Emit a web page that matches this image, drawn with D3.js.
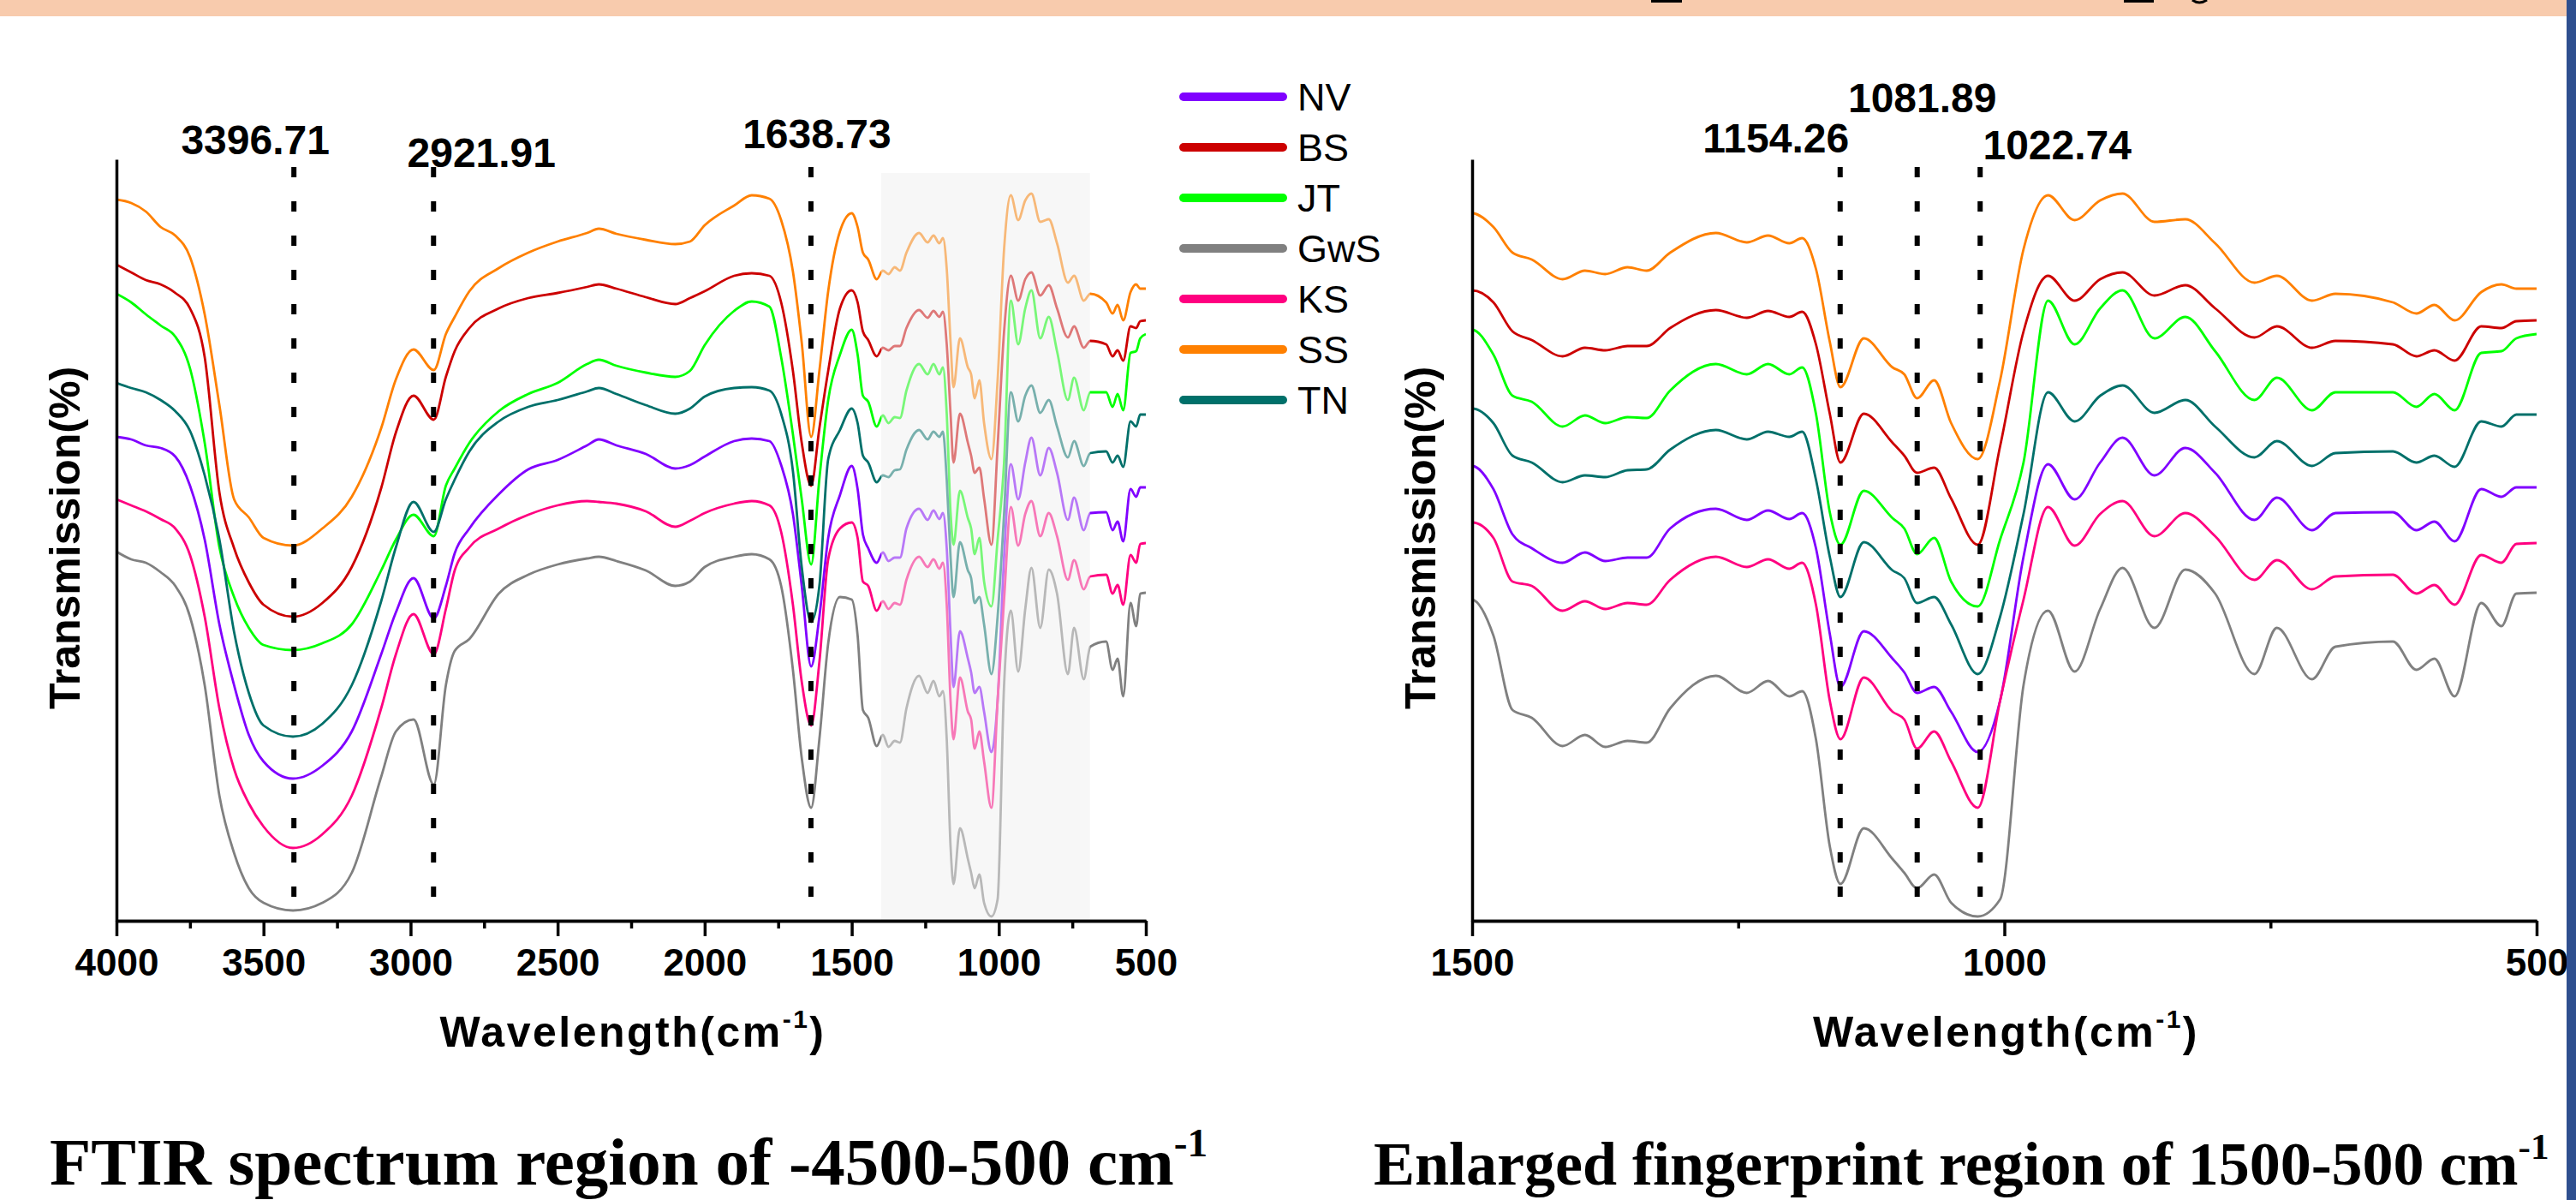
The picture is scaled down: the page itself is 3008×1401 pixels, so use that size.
<!DOCTYPE html>
<html><head><meta charset="utf-8">
<script src="https://cdn.jsdelivr.net/npm/d3@7"></script>
<style>
body{margin:0;background:#fff;}
svg{display:block;}
</style>
</head><body>
<svg id="chart" width="3008" height="1401"></svg>
<script>
// ---------------- DATA ----------------
const wavenumbers = [4000,3950,3900,3850,3800,3750,3700,3650,3600,3550,3500,3400,3300,3200,3100,3050,2990,2921,2880,2850,2800,2700,2600,2500,2400,2360,2300,2200,2100,2050,2000,1900,1840,1780,1740,1700,1670,1638,1610,1580,1540,
1500,1480,1462,1444,1415,1394,1375,1354,1336,1314,1271,1242,1222,1202,1190,1177,1164,1154,1132,1105,1094,1082,1066,1050,1025,1004,982,959,934,910,889,859,830,802,765,744,711,689,635,613,596,577,552,533,519,500];

const NV = [56.1,55.8,55.1,54.8,53.8,50.4,44.1,34.2,27.1,21.3,18.2,16.2,17.7,21.7,30.7,35.6,39.6,34.9,38.7,42.5,45.4,49.4,52.3,53.4,55.1,55.8,55.1,54.1,52.4,52.8,53.8,55.6,55.9,55.6,52.8,47.1,38.7,29.3,35.1,44.3,49.3,
52.7,50.0,44.7,43.1,41.4,42.6,41.6,42.0,42.0,45.4,47.7,46.4,47.5,46.5,47.2,43.1,33.1,26.9,33.4,30.2,28.6,26.2,26.9,24.0,19.3,25.3,42.1,52.9,48.8,53.1,56.0,51.6,54.8,51.9,46.4,49.0,45.2,47.2,47.3,45.2,46.2,43.9,50.0,49.1,50.2,50.2];

const BS = [76.2,75.3,74.4,73.9,72.9,71.1,65.4,49.6,43.1,39.1,36.5,35.1,36.7,40.9,50.1,56.6,60.9,58.1,63.1,66.1,68.8,71.1,72.3,72.9,73.6,73.9,73.4,72.4,71.6,72.3,73.1,74.9,75.2,74.9,71.8,63.8,55.4,50.4,57.1,63.8,71.1,
73.2,71.8,68.4,67.4,65.5,66.5,66.2,66.7,66.7,68.8,70.9,70.0,70.8,70.1,70.7,66.9,58.8,53.1,58.8,55.4,53.9,51.9,52.5,48.9,43.5,55.0,68.4,74.9,72.0,74.5,75.3,72.6,73.8,71.1,67.7,69.0,66.5,67.3,66.9,65.5,66.2,65.0,69.0,68.8,69.6,69.7];

const JT = [72.8,71.8,70.4,69.1,67.8,64.1,55.4,43.2,37.4,33.8,31.8,31.2,32.0,34.2,40.5,44.1,47.0,44.5,50.4,52.4,55.4,59.1,61.1,62.4,64.6,65.1,64.4,63.6,63.1,63.8,66.8,70.8,71.9,71.3,65.4,56.4,48.8,41.2,51.2,60.4,65.7,
68.6,65.7,60.9,60.2,57.3,58.6,57.7,58.4,58.3,61.5,64.6,63.4,64.6,63.4,64.2,58.8,47.3,43.5,49.8,46.6,45.4,42.4,44.3,39.2,36.3,44.1,53.1,72.0,66.9,71.1,73.2,67.6,70.1,66.1,60.4,63.0,59.2,61.3,61.3,59.6,61.1,59.2,65.9,66.1,67.6,68.1];

const GwS = [42.7,41.8,41.4,40.3,38.7,35.1,27.1,14.2,7.5,3.4,1.7,0.8,1.7,5.2,16.4,21.7,23.1,15.5,27.1,31.1,32.5,37.8,40.0,41.2,41.9,42.1,41.6,40.5,38.7,39.2,40.9,42.1,42.4,41.8,38.7,28.9,18.6,12.8,20.8,32.0,37.4,
37.1,32.9,24.2,23.3,20.0,21.3,19.9,20.6,20.4,24.4,28.2,26.2,27.6,25.8,26.4,20.8,8.3,3.9,10.4,6.8,5.2,3.4,5.0,1.7,0.1,2.1,27.1,35.8,28.7,36.0,40.8,33.8,40.6,37.8,28.4,33.8,27.8,31.6,32.2,28.9,30.2,25.8,36.7,34.0,37.8,37.9];

const KS = [48.8,48.1,47.4,46.5,45.4,42.3,35.1,24.4,17.3,13.3,10.6,8.1,9.7,14.2,24.4,30.7,35.4,30.7,36.0,40.5,43.2,45.4,47.0,48.1,48.6,48.5,48.3,47.4,45.6,46.3,47.2,48.3,48.6,48.1,45.0,36.5,27.5,22.4,29.8,41.8,45.4,
46.1,44.3,39.2,38.7,35.8,36.9,36.0,36.7,36.5,39.4,42.1,40.9,41.8,40.7,41.4,36.5,25.3,20.8,28.0,24.0,23.1,19.7,21.7,18.2,12.8,25.3,37.1,47.9,43.4,47.1,48.6,44.5,47.2,44.5,39.4,41.7,38.3,39.8,40.0,37.8,38.8,36.5,42.3,41.4,43.6,43.7];

const SS = [83.8,83.4,82.4,80.6,79.6,77.1,70.4,59.8,48.8,46.7,44.3,43.4,45.4,49.1,57.1,62.8,66.3,63.9,68.1,70.1,73.1,75.8,77.6,78.9,79.9,80.4,79.8,79.1,78.6,78.9,80.8,83.1,84.3,83.9,81.4,75.4,67.1,56.1,63.8,73.1,80.1,
82.2,80.6,77.6,76.8,74.5,75.5,75.1,75.9,75.5,77.6,79.9,78.8,79.6,78.7,79.3,75.7,67.2,61.9,67.6,64.2,63.4,60.6,62.7,57.7,53.5,62.7,78.0,84.3,81.4,83.7,84.5,81.2,81.5,78.7,74.1,74.9,72.0,72.8,71.8,70.5,71.5,69.7,73.0,73.9,73.4,73.4];

const TN = [62.4,61.8,61.3,60.4,59.1,56.8,51.6,44.1,33.3,26.2,22.4,21.1,22.6,27.1,36.9,43.2,48.5,45.0,48.8,51.1,54.4,57.9,59.6,60.4,61.4,61.8,61.1,59.8,58.8,59.4,60.8,61.8,61.9,61.5,58.8,52.1,40.9,34.5,38.7,53.5,56.9,
59.4,57.7,53.9,53.1,50.8,51.6,51.4,52.2,52.3,54.6,56.9,55.8,56.7,56.1,56.7,51.1,42.1,37.4,43.8,40.5,39.6,36.7,37.4,34.2,28.4,35.1,47.1,61.3,57.9,60.9,62.1,58.9,60.4,57.3,53.7,55.6,52.7,54.2,54.4,53.1,53.9,52.6,57.9,57.3,58.7,58.7];

const seriesNames = ["NV","BS","JT","GwS","KS","SS","TN"];
const seriesColors = ["#8000ff","#cc0000","#00ff00","#808080","#ff0080","#ff8000","#00706a"];
const leftMajorTicks = [4000,3500,3000,2500,2000,1500,1000,500];
const leftMinorTicks = [3750,3250,2750,2250,1750,1250,750];
const rightMajorTicks = [1500,1000,500];
const rightMinorTicks = [1250,750];
const leftPeaks = [3396.71, 2921.91, 1638.73];
const rightPeaks = [1154.26, 1081.89, 1022.74];
const shadedBand = [1400, 690];
const leftCaption = "FTIR spectrum region of -4500-500 cm";
const rightCaption = "Enlarged fingerprint region of 1500-500 cm";

// ---------------- LAYOUT ----------------
const SANS = "'Liberation Sans', Arial, sans-serif";
const SERIF = "'Liberation Serif', 'Times New Roman', serif";
const seriesValues = [NV, BS, JT, GwS, KS, SS, TN];
const svg = d3.select("#chart");
const yTop = 186, yBot = 1075;
const y = d3.scaleLinear().domain([-0.4, 88.5]).range([yBot, yTop]);
const xL = d3.scaleLinear().domain([4000, 500]).range([136, 1338]);
const xR = d3.scaleLinear().domain([1500, 500]).range([1719, 2962]);

svg.append("rect").attr("x",0).attr("y",0).attr("width",3008).attr("height",1401).attr("fill","#fff");
// top band with cut-off marks of text above the crop
svg.append("rect").attr("x",0).attr("y",0).attr("width",2997).attr("height",19).attr("fill","#f8cbad");
svg.append("rect").attr("x",1928).attr("y",0).attr("width",36).attr("height",3).attr("fill","#000");
svg.append("rect").attr("x",2480).attr("y",0).attr("width",35).attr("height",3).attr("fill","#000");
svg.append("path").attr("d","M2560,0 Q2568,6 2577,0").attr("fill","none").attr("stroke","#000").attr("stroke-width",3);

const defs = svg.append("defs");
function clip(id, x0, x1){
  defs.append("clipPath").attr("id", id).append("rect")
    .attr("x", x0).attr("y", yTop - 20).attr("width", x1 - x0).attr("height", yBot - yTop + 20);
}
clip("clipL", 136, 1338);
clip("clipR", 1719, 2962);

function panel(x, clipId, major, minor, peaks, labelDx, labelY, shaded){
  const g = svg.append("g");
  const lineGen = d3.line()
    .x((d,i) => x(wavenumbers[i]))
    .y(d => y(d))
    .curve(d3.curveMonotoneX);
  const lines = g.append("g").attr("clip-path", `url(#${clipId})`);
  seriesValues.forEach((vals, k) => {
    lines.append("path").attr("d", lineGen(vals))
      .attr("fill","none").attr("stroke", seriesColors[k])
      .attr("stroke-width", 2.8).attr("stroke-linejoin","round");
  });
  if (shaded) {
    g.append("rect").attr("x", x(shaded[0])).attr("y", 202)
      .attr("width", x(shaded[1]) - x(shaded[0])).attr("height", yBot - 202)
      .attr("fill", "#efefef").attr("opacity", 0.5);
  }
  peaks.forEach((p, i) => {
    g.append("line").attr("x1", x(p)).attr("x2", x(p)).attr("y1", 195).attr("y2", yBot)
      .attr("stroke","#000").attr("stroke-width",6).attr("stroke-dasharray","12,28");
    g.append("text").attr("x", x(p) + labelDx[i]).attr("y", labelY[i])
      .attr("text-anchor","middle").style("font-family", SANS).attr("font-size",48).attr("font-weight","bold")
      .text(d3.format(".2f")(p));
  });
  const axMinor = d3.axisBottom(x).tickValues(minor).tickSize(9).tickSizeOuter(0).tickFormat("");
  const axMajor = d3.axisBottom(x).tickValues(major).tickSize(18).tickSizeOuter(0).tickPadding(15).tickFormat(d3.format("d"));
  const gm = g.append("g").attr("transform", `translate(0,${yBot})`).call(axMinor);
  const gM = g.append("g").attr("transform", `translate(0,${yBot})`).call(axMajor);
  [gm, gM].forEach(a => {
    a.selectAll("path.domain").attr("stroke","#000").attr("stroke-width",3.5);
    a.selectAll(".tick line").attr("stroke","#000").attr("stroke-width",3.5);
  });
  gM.selectAll(".tick text").style("font-family", SANS).attr("font-size",44).attr("font-weight","bold").attr("fill","#000");
  const yAx = d3.axisLeft(y).tickValues([]).tickSizeOuter(0);
  const gy = g.append("g").attr("transform", `translate(${x.range()[0]},0)`).call(yAx);
  gy.select("path.domain").attr("stroke","#000").attr("stroke-width",3.5);
  const xc = (x.range()[0] + x.range()[1]) / 2;
  const t = g.append("text").attr("x", xc + 2).attr("y", 1222).attr("text-anchor","middle")
    .style("font-family", SANS).attr("font-size",50).attr("font-weight","bold").attr("letter-spacing","2.5px");
  t.append("tspan").text("Wavelength(cm");
  t.append("tspan").attr("font-size",30).attr("dy",-22).text("-1");
  t.append("tspan").attr("dy",22).text(")");
  g.append("text").attr("transform", `translate(${x.range()[0] - 43},628) rotate(-90)`)
    .attr("text-anchor","middle").style("font-family", SANS).attr("font-size",50).attr("font-weight","bold")
    .text("Transmission(%)");
  return g;
}

panel(xL, "clipL", leftMajorTicks, leftMinorTicks, leftPeaks, [-45, 56, 7], [180, 195, 173], shadedBand);
panel(xR, "clipR", rightMajorTicks, rightMinorTicks, rightPeaks, [-75, 6, 90], [178, 131, 186], null);

// legend
const lg = svg.append("g");
seriesNames.forEach((n, i) => {
  const ly = 113 + i * 59;
  lg.append("line").attr("x1",1382).attr("x2",1498).attr("y1",ly).attr("y2",ly)
    .attr("stroke", seriesColors[i]).attr("stroke-width",10).attr("stroke-linecap","round");
  lg.append("text").attr("x",1515).attr("y",ly + 16).style("font-family", SANS).attr("font-size",45).text(n);
});

// captions
function caption(x0, size, txt){
  const c = svg.append("text").attr("x", x0).attr("y", 1383)
    .style("font-family", SERIF).attr("font-weight","bold").attr("font-size", size);
  c.append("tspan").text(txt);
  c.append("tspan").attr("font-size", size*0.6).attr("dy", -size*0.42).text("-1");
}
caption(58, 79, leftCaption);
caption(1604, 72, rightCaption);

// right edge stripe
svg.append("rect").attr("x",2997).attr("y",0).attr("width",11).attr("height",1401).attr("fill","#2f4f8f");
</script>
</body></html>
